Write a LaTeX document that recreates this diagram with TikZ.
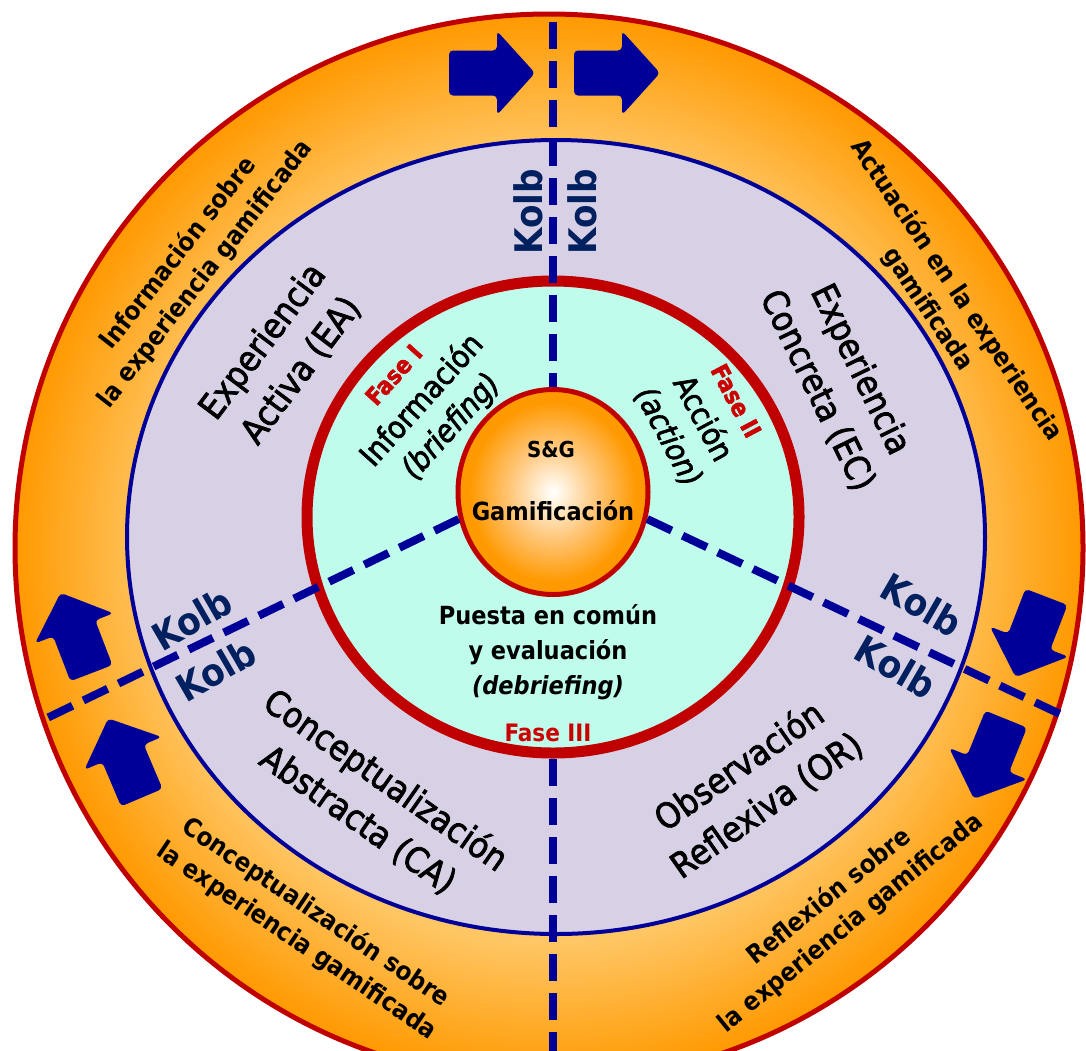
\documentclass[tikz,border=0pt]{standalone}
\usepackage{fontspec}
\setmainfont{DejaVu Sans Condensed}[
  BoldFont={DejaVu Sans Condensed Bold},
  ItalicFont={DejaVu Sans Condensed Oblique},
  BoldItalicFont={DejaVu Sans Condensed Bold Oblique}]
\newfontfamily\heavyfont{DejaVu Sans Condensed}[FakeBold=2.2,
  ItalicFont={DejaVu Sans Condensed Oblique}, ItalicFeatures={FakeBold=2.2}]
\usetikzlibrary{positioning,shapes.geometric}

\definecolor{orbase}{RGB}{255,153,0}
\definecolor{orlight}{RGB}{255,198,100}
\definecolor{ballmid}{RGB}{255,200,125}
\definecolor{ballhi}{RGB}{255,246,232}
\definecolor{lavring}{RGB}{216,208,228}
\definecolor{aquaring}{RGB}{192,252,236}
\definecolor{redline}{RGB}{192,0,0}
\definecolor{navy}{RGB}{0,0,153}
\definecolor{kolbtext}{RGB}{0,32,96}
\definecolor{fasered}{RGB}{204,0,0}

% orange glow of the outer ring and of the centre ball (edge of the path = 25bp)
\pgfdeclareradialshading{ringglow}{\pgfpoint{0bp}{0bp}}{color(0bp)=(orlight); color(18.5bp)=(orlight); color(25bp)=(orbase); color(50bp)=(orbase)}
\pgfdeclareradialshading{ballglow}{\pgfpoint{0bp}{0bp}}{color(0bp)=(white); color(2bp)=(ballhi); color(11bp)=(ballmid); color(22bp)=(orbase); color(50bp)=(orbase)}

\newcommand{\fasetag}[1]{\textcolor{fasered}{\fontsize{24}{30}\selectfont\bfseries #1}}

\tikzset{
  kolbline/.style={navy, line width=8pt, dash pattern=on 27pt off 12pt},
  outerlabel/.style={font=\fontsize{25.5}{34}\selectfont\bfseries, align=center, inner sep=0pt},
  ringlabel/.style={font=\heavyfont\fontsize{35}{48}\selectfont, align=center, inner sep=0pt},
  faselabel/.style={font=\heavyfont\fontsize{31}{39}\selectfont, align=center, inner sep=0pt},
  centerlabel/.style={font=\fontsize{25}{35}\selectfont\bfseries, align=center, inner sep=0pt},
  kolblabel/.style={text=kolbtext, font=\fontsize{38}{40}\selectfont\bfseries, inner sep=0pt},
  kolbarrow/.pic={
    \fill[navy, rounded corners=4pt] (-43,-22.5) -- (5,-22.5) -- (5,-42) -- (43,0)
      -- (5,42) -- (5,22.5) -- (-43,22.5) -- cycle;
  }
}

\begin{document}
\begin{tikzpicture}[x=1pt, y=-1pt]
  \useasboundingbox (0,0) rectangle (1086,1050);
  \clip (0,0) rectangle (1086,1050);

  % rings, outside in
  \shade[shading=ringglow, draw=redline, line width=5pt] (549,548) circle [radius=534];
  \draw[navy, line width=4pt, fill=lavring] (556,537) ellipse [x radius=429, y radius=397];
  \draw[redline, line width=11pt, fill=aquaring] (553,517) ellipse [x radius=246, y radius=236];

  \node[ellipse, draw=redline, line width=5pt, shading=ballglow, minimum width=190pt,
        minimum height=205pt, inner sep=0pt] (ball) at (553,492) {};

  % Kolb dividers
  \coordinate (kolbtop) at (553,22);
  \coordinate (fasebottom) at (553,759);
  \coordinate (kolbbottom) at (553,1060);
  \coordinate (kolbleft) at (45,719);
  \coordinate (kolbright) at (1060,714);
  \draw[kolbline] (kolbtop) -- (ball.north);
  \draw[kolbline] (fasebottom) -- (kolbbottom);
  \draw[kolbline] (ball.196) -- (kolbleft);
  \draw[kolbline] (ball.344) -- (kolbright);

  % cycle arrows
  \pic at (492,73) {kolbarrow};
  \pic at (617,73) {kolbarrow};
  \pic[rotate=-111] at (1031,637) {kolbarrow};
  \pic[rotate=-112] at (990,759) {kolbarrow};
  \pic[rotate=111] at (76,633) {kolbarrow};
  \pic[rotate=113] at (125,758) {kolbarrow};

  % outer ring
  \node[outerlabel, rotate=52] (infoouter) at (192,264) {Información sobre\\la experiencia gamificada};
  \node[outerlabel, rotate=-56] (actouter) at (942,300) {Actuación en la experiencia\\gamificada};
  \node[outerlabel, rotate=-34] (concouter) at (306,927) {Conceptualización sobre\\la experiencia gamificada};
  \node[outerlabel, rotate=39] (reflouter) at (840,910) {Reflexión sobre\\la experiencia gamificada};

  % Kolb ring
  \node[ringlabel, rotate=53] (ea) at (282,356) {Experiencia\\Activa (EA)};
  \node[ringlabel, rotate=-64] (ec) at (839,380) {Experiencia\\Concreta (EC)};
  \node[ringlabel, rotate=-35] (ca) at (372,800) {Conceptualización\\Abstracta (CA)};
  \node[ringlabel, rotate=35] (or) at (753,786) {Observación\\Reflexiva (OR)};

  \node[kolblabel, rotate=90] (kolbtl) at (528,212) {Kolb};
  \node[kolblabel, rotate=90] (kolbtr) at (582,212) {Kolb};
  \node[kolblabel, rotate=30] (kolbla) at (192,619) {Kolb};
  \node[kolblabel, rotate=30] (kolblb) at (216,670) {Kolb};
  \node[kolblabel, rotate=-30] (kolbra) at (922,605) {Kolb};
  \node[kolblabel, rotate=-30] (kolbrb) at (896,667) {Kolb};

  % phases
  \node[faselabel, rotate=48] (fase1) at (425,403) {\fasetag{Fase I}\\Información\\\textit{(briefing)}};
  \node[faselabel, rotate=-62] (fase2) at (700,420) {\fasetag{Fase II}\\Acción\\\textit{(action)}};
  \node[centerlabel] (fase3) at (548,652) {Puesta en común\\y evaluación\\\textit{(debriefing)}};
  \node[inner sep=0pt] (fase3tag) at (548,733) {\fasetag{Fase III}};

  % centre
  \node[font=\fontsize{22}{24}\selectfont\bfseries] (sg) at (551,449) {S\&G};
  \node[font=\fontsize{25}{28}\selectfont\bfseries] (gamif) at (553,511) {Gamificación};
\end{tikzpicture}
\end{document}
